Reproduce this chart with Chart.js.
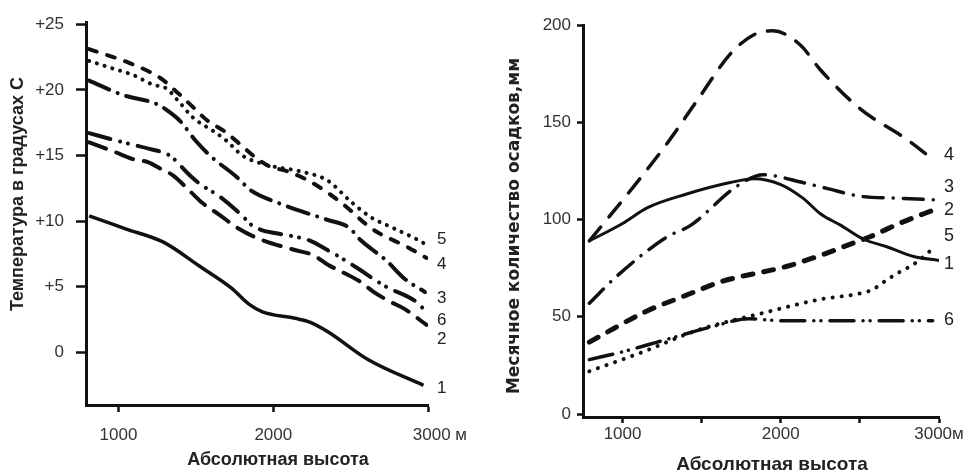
<!DOCTYPE html>
<html>
<head>
<meta charset="utf-8">
<script src="https://cdn.jsdelivr.net/npm/chart.js@4.4.0/dist/chart.umd.min.js"></script>
<style>
  html, body { margin: 0; padding: 0; background: #fff; }
  #wrap { position: relative; width: 974px; height: 473px; }
  .box { position: absolute; top: 0; height: 473px; }
  #leftBox { left: 0; width: 480px; }
  #rightBox { left: 480px; width: 494px; }
</style>
</head>
<body>
<div id="wrap">
  <div class="box" id="leftBox"><canvas id="tempChart" width="480" height="473"></canvas></div>
  <div class="box" id="rightBox"><canvas id="rainChart" width="494" height="473"></canvas></div>
</div>
<script>
// --- data: [altitude m, value] ---
const seriesNames = ['1', '2', '3', '4', '5', '6'];

const tempYTicks = [0, 5, 10, 15, 20, 25];
const tempYLabels = ['0', '+5', '+10', '+15', '+20', '+25'];
const tempXTicks = [1000, 2000, 3000];
const tempXLabels = ['1000', '2000', '     3000 м'];

const temp1 = [[810,10.4],[1050,9.4],[1290,8.4],[1520,6.6],[1730,4.9],[1840,3.7],[1930,3.1],[2140,2.6],[2240,2.3],[2350,1.6],[2620,-0.6],[2970,-2.5]];
const temp2 = [[810,16.0],[970,15.3],[1100,14.7],[1190,14.5],[1270,14.0],[1350,13.5],[1460,12.3],[1540,11.4],[1650,10.5],[1780,9.4],[1920,8.6],[2140,7.8],[2260,7.4],[2350,6.7],[2450,6.1],[2560,5.4],[2650,4.6],[2750,3.9],[2850,3.3],[2990,2.1]];
const temp3 = [[810,20.7],[1030,19.6],[1250,18.9],[1330,18.3],[1400,17.6],[1500,16.1],[1600,14.9],[1760,13.4],[1860,12.3],[2030,11.4],[2220,10.6],[2350,10.1],[2490,9.5],[2560,8.6],[2730,7.0],[2850,5.6],[2980,4.6]];
const temp4 = [[810,23.1],[1080,22.0],[1270,20.9],[1380,19.8],[1480,18.7],[1570,17.7],[1690,16.8],[1800,15.7],[1880,14.9],[1970,14.2],[2090,13.8],[2240,13.0],[2440,11.4],[2640,9.4],[2870,8.0],[2990,7.2]];
const temp5 = [[810,22.2],[970,21.6],[1100,21.1],[1220,20.4],[1310,20.1],[1390,19.1],[1480,17.9],[1620,16.8],[1700,16.1],[1800,15.0],[1950,14.3],[2170,13.8],[2350,13.1],[2500,11.5],[2630,10.3],[2770,9.5],[2930,8.6],[2990,8.2]];
const temp6 = [[810,16.7],[1030,16.0],[1200,15.5],[1330,15.0],[1460,13.5],[1530,12.8],[1650,11.9],[1800,10.4],[1860,9.7],[1930,9.3],[2010,9.1],[2240,8.5],[2350,7.8],[2410,7.4],[2560,6.3],[2660,5.5],[2730,5.0],[2940,3.7],[2990,3.0]];
const tempLabelAt = [-2.7, 1.0, 4.15, 6.75, 8.6, 2.45];

const rainYTicks = [0, 50, 100, 150, 200];
const rainXTicks = [1000, 1500, 2000, 2500, 3000];
const rainXLabels = ['1000', '', '2000', '', '3000м'];

const rain1 = [[790,89],[1000,98],[1155,106],[1400,113],[1680,119],[1830,121],[2000,118],[2140,111],[2250,103],[2380,97],[2520,90],[2670,86],[2840,81],[3000,79]];
const rain2 = [[790,37],[1155,53],[1400,61],[1620,68],[2040,76],[2300,83],[2460,88],[2560,91],[2750,98],[3000,106]];
const rain3 = [[790,57],[965,71],[1280,91],[1430,97],[1720,117],[1890,123],[2140,119],[2290,116],[2500,112],[2740,111],[3000,110]];
const rain4 = [[790,89],[1090,119],[1280,139],[1470,161],[1680,185],[1830,195],[1950,197],[2120,190],[2250,177],[2500,157],[2800,141],[2975,130]];
const rain5 = [[790,22],[1130,32],[1470,43],[1890,52],[2250,59],[2500,62],[2580,64],[2670,69],[2750,73],[2840,77],[2975,86]];
const rain6 = [[790,28],[1000,32],[1220,37],[1570,45],[1800,49],[2000,48],[2500,48],[2960,48]];
const rainLabelAt = [77.2, 104.9, 116.8, 133.2, 91.5, 48.1];

// --- styles ---
const FONT = '"Liberation Sans", Arial, sans-serif';
const WIDE = '"DejaVu Sans", Verdana, sans-serif';
const INK = '#111';

const tempStyles = [
  { w: 3.5, dash: [] },
  { w: 4, dash: [18, 11] },
  { w: 4, dash: [22, 9, 0.1, 9] },
  { w: 4, dash: [8, 11] },
  { w: 4, dash: [0.1, 8] },
  { w: 4, dash: [22, 10, 0.1, 8, 0.1, 10] }
];
const rainStyles = [
  { w: 3, dash: [] },
  { w: 5, dash: [10, 11] },
  { w: 3.5, dash: [20, 10, 0.1, 10] },
  { w: 3.5, dash: [18, 13] },
  { w: 4, dash: [0.1, 9] },
  { w: 3.5, dash: [24, 9, 0.1, 7, 0.1, 9] }
];

function makeSet(pts, st) {
  return {
    data: pts.map(([x, y]) => ({ x, y })),
    borderColor: INK,
    borderWidth: st.w,
    borderDash: st.dash,
    borderCapStyle: st.dash.length ? 'round' : 'butt',
    borderJoinStyle: 'round',
    pointRadius: 0,
    fill: false,
    cubicInterpolationMode: 'monotone'
  };
}

const setTicks = list => s => { s.ticks = list.map(v => ({ value: v })); };

// numbers at line ends + axis titles
const lineTags = {
  id: 'lineTags',
  afterDraw(chart, args, o) {
    const { ctx, chartArea, scales } = chart;
    ctx.save();
    ctx.fillStyle = '#222';
    ctx.font = `${o.size}px ${FONT}`;
    ctx.textAlign = 'left';
    ctx.textBaseline = 'middle';
    o.names.forEach((t, i) => ctx.fillText(t, chartArea.right + o.gap, scales.y.getPixelForValue(o.at[i])));
    ctx.textAlign = 'center';
    ctx.font = `bold ${o.xTitle.size}px ${FONT}`;
    ctx.fillText(o.xTitle.text, o.xTitle.x, o.xTitle.y);
    ctx.translate(o.yTitle.x, o.yTitle.y);
    ctx.rotate(-Math.PI / 2);
    ctx.font = `bold ${o.yTitle.size}px ${o.yTitle.family}`;
    ctx.fillText(o.yTitle.text, 0, 0);
    ctx.restore();
  }
};

function axisLook(tickLen) {
  return {
    border: { display: true, color: INK, width: 3 },
    grid: { drawOnChartArea: false, drawTicks: true, tickLength: tickLen, tickWidth: 2.5, tickColor: INK, color: INK }
  };
}

new Chart(document.getElementById('tempChart'), {
  type: 'line',
  data: { datasets: [temp1, temp2, temp3, temp4, temp5, temp6].map((p, i) => makeSet(p, tempStyles[i])) },
  options: {
    responsive: false,
    animation: false,
    layout: { padding: { top: 15, right: 47, left: 0, bottom: 0 } },
    plugins: {
      legend: { display: false },
      tooltip: { enabled: false },
      lineTags: {
        names: seriesNames, at: tempLabelAt, gap: 9, size: 17,
        xTitle: { text: 'Абсолютная высота', size: 18, x: 278, y: 460 },
        yTitle: { text: 'Температура в градусах С', size: 18, family: FONT, x: 18, y: 194 }
      }
    },
    scales: {
      x: {
        type: 'linear', min: 790, max: 3000,
        afterBuildTicks: setTicks(tempXTicks),
        afterFit: s => { s.height = 68; },
        ...axisLook(7),
        ticks: { color: '#333', font: { family: FONT, size: 17 }, padding: 13, maxRotation: 0, autoSkip: false,
          callback: (v, i) => tempXLabels[i] }
      },
      y: {
        type: 'linear', min: -4, max: 25.15,
        afterBuildTicks: setTicks(tempYTicks),
        afterFit: s => { s.width = 86; },
        ...axisLook(10),
        ticks: { color: '#333', font: { family: FONT, size: 17 }, padding: 12,
          callback: (v, i) => tempYLabels[i] }
      }
    }
  },
  plugins: [lineTags]
});

new Chart(document.getElementById('rainChart'), {
  type: 'line',
  data: { datasets: [rain1, rain2, rain3, rain4, rain5, rain6].map((p, i) => makeSet(p, rainStyles[i])) },
  options: {
    responsive: false,
    animation: false,
    layout: { padding: { top: 25, right: 35, left: 0, bottom: 0 } },
    plugins: {
      legend: { display: false },
      tooltip: { enabled: false },
      lineTags: {
        names: seriesNames, at: rainLabelAt, gap: 5, size: 18,
        xTitle: { text: 'Абсолютная высота', size: 19, x: 292, y: 465 },
        yTitle: { text: 'Месячное количество осадков,мм', size: 17, family: WIDE, x: 35, y: 226 }
      }
    },
    scales: {
      x: {
        type: 'linear', min: 750, max: 3000,
        afterBuildTicks: setTicks(rainXTicks),
        afterFit: s => { s.height = 56; },
        ...axisLook(6),
        ticks: { color: '#333', font: { family: FONT, size: 17 }, padding: 1, maxRotation: 0, autoSkip: false,
          callback: (v, i) => rainXLabels[i] }
      },
      y: {
        type: 'linear', min: -1.5, max: 200,
        afterBuildTicks: setTicks(rainYTicks),
        afterFit: s => { s.width = 103; },
        ...axisLook(6),
        ticks: { color: '#333', font: { family: FONT, size: 17 }, padding: 6 }
      }
    }
  },
  plugins: [lineTags]
});
</script>
</body>
</html>
